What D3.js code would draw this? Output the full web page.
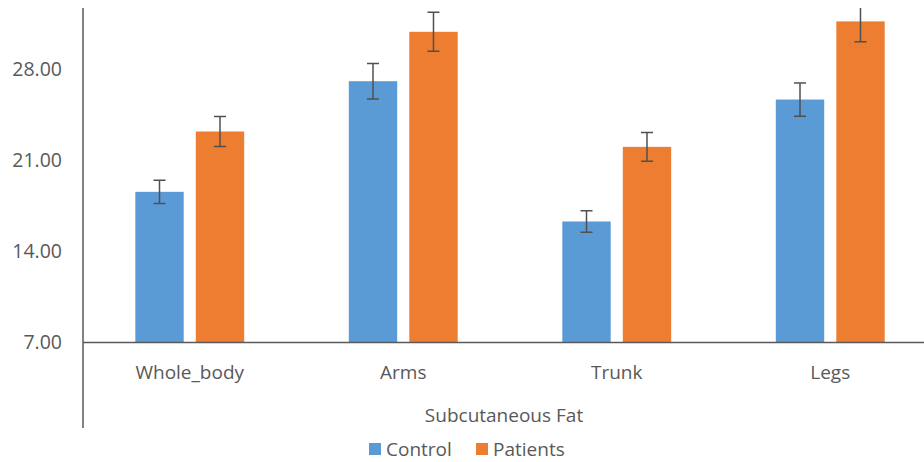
<!DOCTYPE html>
<html><head><meta charset="utf-8">
<script src="https://cdn.jsdelivr.net/npm/d3@7"></script>
<style>body{margin:0;background:#fff;} svg{display:block;font-family:"Open Sans",sans-serif;}</style>
</head><body>
<svg id="chart" width="924" height="462"></svg>
<script>
const categories = ["Whole_body", "Arms", "Trunk", "Legs"];
const seriesNames = ["Control", "Patients"];
const controlValues = [18.59, 27.10, 16.31, 25.69];
const patientValues = [23.23, 30.90, 22.05, 31.70];
const controlErrors = [0.89, 1.37, 0.82, 1.28];
const patientErrors = [1.15, 1.50, 1.10, 1.56];
const yTicks = [7, 14, 21, 28, 35];
const xTitle = "Subcutaneous Fat";
const colors = ["#5B9BD5", "#ED7D31"];

const svg = d3.select("#chart");
const plotTop = 8, baseY = 342.5, left = 83, right = 937;
const y = d3.scaleLinear().domain([7, 35]).range([baseY, baseY - 28 * 13]);
const x0 = d3.scaleBand().domain(categories).range([left, right]).paddingInner(0.49).paddingOuter(0.245);
const x1 = d3.scaleBand().domain(seriesNames).range([0, x0.bandwidth()]).paddingInner(0.2);

svg.append("defs").append("clipPath").attr("id", "clip")
  .append("rect").attr("x", left).attr("y", plotTop).attr("width", 924 - left).attr("height", baseY - plotTop + 1);

const data = categories.map((c, i) => ({
  cat: c,
  vals: [
    {s: "Control", v: controlValues[i], e: controlErrors[i], c: colors[0]},
    {s: "Patients", v: patientValues[i], e: patientErrors[i], c: colors[1]}
  ]
}));

const g = svg.append("g").attr("clip-path", "url(#clip)");
const groups = g.selectAll("g.cat").data(data).join("g").attr("transform", d => `translate(${x0(d.cat)},0)`);
groups.selectAll("rect").data(d => d.vals).join("rect")
  .attr("x", d => x1(d.s)).attr("width", x1.bandwidth())
  .attr("y", d => y(d.v)).attr("height", d => y(7) - y(d.v))
  .attr("fill", d => d.c);

const eb = groups.selectAll("g.err").data(d => d.vals).join("g").attr("class", "err")
  .attr("transform", d => `translate(${x1(d.s) + x1.bandwidth() / 2},0)`);
eb.append("line").attr("x1", 0).attr("x2", 0).attr("y1", d => y(d.v + d.e)).attr("y2", d => y(d.v - d.e))
  .attr("stroke", "#505050").attr("stroke-width", 1.5);
eb.append("line").attr("x1", -6).attr("x2", 6).attr("y1", d => y(d.v + d.e)).attr("y2", d => y(d.v + d.e))
  .attr("stroke", "#505050").attr("stroke-width", 1.5);
eb.append("line").attr("x1", -6).attr("x2", 6).attr("y1", d => y(d.v - d.e)).attr("y2", d => y(d.v - d.e))
  .attr("stroke", "#505050").attr("stroke-width", 1.5);

// axes lines
svg.append("line").attr("x1", left).attr("x2", left).attr("y1", plotTop).attr("y2", 428)
  .attr("stroke", "#595959").attr("stroke-width", 1.5);
svg.append("line").attr("x1", left).attr("x2", 924).attr("y1", y(7)).attr("y2", y(7))
  .attr("stroke", "#595959").attr("stroke-width", 1.5);

// y tick labels
svg.append("g").selectAll("text").data(yTicks.filter(t => y(t) > plotTop)).join("text")
  .attr("x", 62).attr("y", d => y(d)).attr("dy", "0.35em").attr("text-anchor", "end")
  .attr("fill", "#595959").attr("font-size", 19.5).text(d => d.toFixed(2));

// category labels
svg.append("g").selectAll("text").data(categories).join("text")
  .attr("x", d => x0(d) + x0.bandwidth() / 2).attr("y", 372).attr("dy", "0.35em")
  .attr("text-anchor", "middle").attr("fill", "#595959").attr("font-size", 19).text(d => d);

svg.append("text").attr("x", 504).attr("y", 415).attr("dy", "0.35em").attr("text-anchor", "middle")
  .attr("fill", "#595959").attr("font-size", 19).text(xTitle);

// legend
const legendX = [369, 476];
const lg = svg.append("g").selectAll("g").data(seriesNames).join("g")
  .attr("transform", (d, i) => `translate(${legendX[i]},443)`);
lg.append("rect").attr("width", 12).attr("height", 12).attr("fill", (d, i) => colors[i]);
lg.append("text").attr("x", 17).attr("y", 6).attr("dy", "0.35em").attr("fill", "#595959")
  .attr("font-size", 19).text(d => d);
</script>
</body></html>
